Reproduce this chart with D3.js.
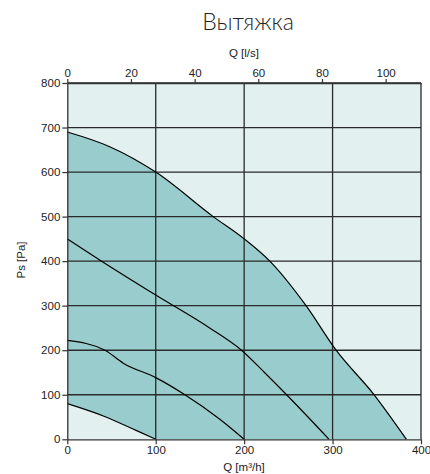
<!DOCTYPE html>
<html><head><meta charset="utf-8">
<script src="https://cdn.jsdelivr.net/npm/d3@7"></script>
<style>
html,body{margin:0;padding:0;background:#fff;}
svg text{font-family:"Liberation Sans",Arial,sans-serif;}
</style></head>
<body>
<svg id="c" width="430" height="474"></svg>
<script>
const title = "Вытяжка";
const xLabelBottom = "Q [m³/h]";
const xLabelTop = "Q [l/s]";
const yLabel = "Ps [Pa]";
const xTicks = [0, 100, 200, 300, 400];
const xTopTicks = [0, 20, 40, 60, 80, 100];
const yTicks = [0, 100, 200, 300, 400, 500, 600, 700, 800];

const curveMaxQ = [0, 48, 100, 165, 200, 229, 270, 304, 347, 383.5];
const curveMaxP = [690, 657, 600, 500, 450, 400, 300, 200, 100, 0];
const curve2Q = [0, 38.8, 100, 161, 197, 223, 248, 296];
const curve2P = [450, 400, 324, 250, 200, 150, 100, 0];
const curve3Q = [0, 42.6, 63.3, 100, 133, 172.5, 200];
const curve3P = [222, 200, 171, 138.5, 100, 45, 0];
const curveMinQ = [0, 40.7, 78.4, 100];
const curveMinP = [80, 52.4, 19.4, 0];

const m = {l: 67.3, r: 421, t: 83, b: 439.3};
const svg = d3.select("#c");
const x = d3.scaleLinear().domain([0, 400]).range([m.l, m.r]);
const xTop = d3.scaleLinear().domain([0, 400 / 3.6]).range([m.l, m.r]);
const y = d3.scaleLinear().domain([0, 800]).range([m.b, m.t]);

const zip = (qs, ps) => qs.map((q, i) => [q, ps[i]]);
const maxPts = zip(curveMaxQ, curveMaxP);
const minPts = zip(curveMinQ, curveMinP);
const curves = [maxPts, zip(curve2Q, curve2P), zip(curve3Q, curve3P), minPts];

svg.append("rect").attr("x", x(0)).attr("y", y(800))
  .attr("width", x(400) - x(0)).attr("height", y(0) - y(800))
  .attr("fill", "#e2f0f0");

const line = d3.line().x(d => x(d[0])).y(d => y(d[1])).curve(d3.curveMonotoneX);
const maxPath = line(maxPts);
const minRev = minPts.slice().reverse();
const minPathRev = line(minRev);
svg.append("path")
  .attr("d", maxPath + "L" + x(minRev[0][0]) + "," + y(0) + minPathRev.replace(/^M/, "L") + "Z")
  .attr("fill", "#99cccc");

const g = svg.append("g").attr("stroke", "#2a2a2a").attr("stroke-width", 1.3);
xTicks.slice(1).forEach(v => g.append("line").attr("x1", x(v)).attr("x2", x(v)).attr("y1", y(0)).attr("y2", y(800)));
yTicks.slice(1).forEach(v => g.append("line").attr("x1", x(0)).attr("x2", x(400)).attr("y1", y(v)).attr("y2", y(v)));

curves.forEach(c => svg.append("path").attr("d", line(c)).attr("fill", "none")
  .attr("stroke", "#000").attr("stroke-width", 1.2));

const styleAxis = sel => {
  sel.select(".domain").attr("stroke", "#333").attr("stroke-width", 1.3);
  sel.selectAll(".tick line").attr("stroke", "#333").attr("stroke-width", 1.2);
  sel.selectAll(".tick text").attr("fill", "#222").style("font-size", "11.5px")
    .style("font-family", "'Liberation Sans',Arial,sans-serif");
};
svg.append("g").attr("transform", `translate(0,${y(0)})`)
  .call(d3.axisBottom(x).tickValues(xTicks).tickSize(5).tickSizeOuter(0).tickPadding(2)).call(styleAxis);
svg.append("g").attr("transform", `translate(0,${y(800)})`)
  .call(d3.axisTop(xTop).tickValues(xTopTicks).tickSize(4).tickSizeOuter(0).tickPadding(2)).call(styleAxis);
svg.append("g").attr("transform", `translate(${x(0)},0)`)
  .call(d3.axisLeft(y).tickValues(yTicks).tickSize(5).tickSizeOuter(0).tickPadding(2)).call(styleAxis);

svg.append("text").attr("x", 248).attr("y", 30).attr("text-anchor", "middle")
  .style("font-family", "Lato,Inter,sans-serif").style("font-weight", 300)
  .style("font-size", "23px").attr("fill", "#222").text(title);
svg.append("text").attr("x", 244).attr("y", 57).attr("text-anchor", "middle")
  .style("font-size", "11.5px").attr("fill", "#222").text(xLabelTop);
svg.append("text").attr("x", 244).attr("y", 471).attr("text-anchor", "middle")
  .style("font-size", "11.5px").attr("fill", "#222").text(xLabelBottom);
svg.append("text").attr("transform", "translate(25,260) rotate(-90)").attr("text-anchor", "middle")
  .style("font-size", "11.5px").attr("fill", "#222").text(yLabel);
</script>
</body></html>
